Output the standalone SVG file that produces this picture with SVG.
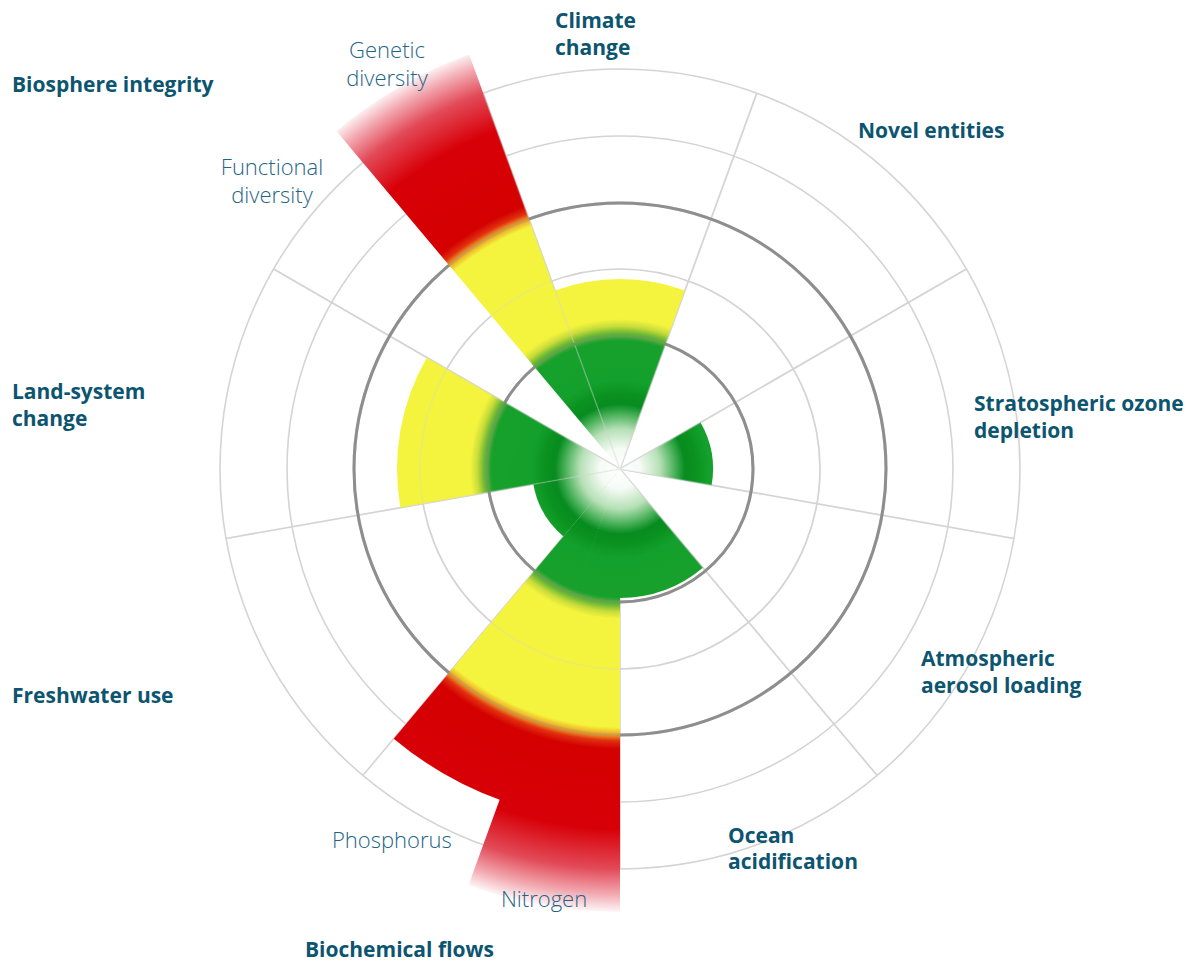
<svg xmlns="http://www.w3.org/2000/svg" width="1192" height="962" viewBox="0 0 1192 962">
<style>
.bg{fill:#ffffff}
.lc{fill:none;stroke:#d4d4d4;stroke-width:1.6}
.dc{fill:none;stroke:#8e8e8e;stroke-width:3}
.sp{stroke:#d4d4d4;stroke-width:1.6}
.w{fill:url(#pb)}
.lbl{font-family:"Open Sans","Liberation Sans",sans-serif;font-weight:700;font-size:21px;fill:#0c5570}
.sub{font-family:"Open Sans","Liberation Sans",sans-serif;font-weight:300;font-size:22px;fill:#1f6585}
</style>
<defs>
<radialGradient id="pb" gradientUnits="userSpaceOnUse" cx="620" cy="469" r="445">
<stop offset="0" stop-color="#ffffff"/>
<stop offset="0.045" stop-color="#f6fbf6"/>
<stop offset="0.09" stop-color="#b6e0b6"/>
<stop offset="0.124" stop-color="#48b058"/>
<stop offset="0.146" stop-color="#078c20"/>
<stop offset="0.17" stop-color="#0a921f"/>
<stop offset="0.2" stop-color="#14a02c"/>
<stop offset="0.288" stop-color="#17a02c"/>
<stop offset="0.306" stop-color="#6cb834"/>
<stop offset="0.321" stop-color="#c8dc3a"/>
<stop offset="0.337" stop-color="#f4f43e"/>
<stop offset="0.58" stop-color="#f4f43e"/>
<stop offset="0.598" stop-color="#f0a020"/>
<stop offset="0.611" stop-color="#e03010"/>
<stop offset="0.629" stop-color="#d40000"/>
<stop offset="0.809" stop-color="#d80008"/>
<stop offset="0.899" stop-color="#e24a58"/>
<stop offset="0.955" stop-color="#f2a8b0"/>
<stop offset="1" stop-color="#ffffff"/>
</radialGradient>
</defs>
<rect class="bg" x="0" y="0" width="1192" height="962"/>
<g id="connectors">
<g id="grid">
<line class="sp" x1="620" y1="469" x2="756.81" y2="93.12"/>
<line class="sp" x1="620" y1="469" x2="966.41" y2="269"/>
<line class="sp" x1="620" y1="469" x2="1013.92" y2="538.46"/>
<line class="sp" x1="620" y1="469" x2="877.12" y2="775.42"/>
<line class="sp" x1="620" y1="469" x2="620" y2="869"/>
<line class="sp" x1="620" y1="469" x2="362.88" y2="775.42"/>
<line class="sp" x1="620" y1="469" x2="226.08" y2="538.46"/>
<line class="sp" x1="620" y1="469" x2="273.59" y2="269"/>
<line class="sp" x1="620" y1="469" x2="483.19" y2="93.12"/>
<circle class="lc" cx="620" cy="469" r="200"/>
<circle class="lc" cx="620" cy="469" r="333"/>
<circle class="lc" cx="620" cy="469" r="400"/>
<circle class="dc" cx="620" cy="469" r="133"/>
<circle class="dc" cx="620" cy="469" r="266"/>
</g>
</g>
<g id="wedge-climate"><path class="w" d="M620 469 L555.02 290.46 A190 190 0 0 1 684.98 290.46 Z"/></g>
<g id="wedge-ozone"><path class="w" d="M620 469 L700.54 422.5 A93 93 0 0 1 711.59 485.15 Z"/></g>
<g id="wedge-ocean"><path class="w" d="M620 469 L702.92 567.82 A129 129 0 0 1 620 598 Z"/></g>
<g id="wedge-phosphorus"><path class="w" d="M620 469 L501.62 800.50 A352 352 0 0 1 393.74 738.65 Z"/></g>
<g id="wedge-nitrogen"><path class="w" d="M620 469 L620 912 A443 443 0 0 1 468.48 885.28 Z"/></g>
<g id="wedge-freshwater"><path class="w" d="M620 469 L563.43 536.41 A88 88 0 0 1 533.34 484.28 Z"/></g>
<g id="wedge-land"><path class="w" d="M620 469 L400.39 507.72 A223 223 0 0 1 426.88 357.5 Z"/></g>
<g id="wedge-genetic"><path class="w" d="M620 469 L336.53 131.18 A441 441 0 0 1 469.17 54.6 Z"/></g>
<g id="grid-overlay" opacity="0.3">
<line class="sp" x1="620" y1="469" x2="756.81" y2="93.12"/>
<line class="sp" x1="620" y1="469" x2="966.41" y2="269"/>
<line class="sp" x1="620" y1="469" x2="1013.92" y2="538.46"/>
<line class="sp" x1="620" y1="469" x2="877.12" y2="775.42"/>
<line class="sp" x1="620" y1="469" x2="226.08" y2="538.46"/>
<line class="sp" x1="620" y1="469" x2="273.59" y2="269"/>
<line class="sp" x1="620" y1="469" x2="483.19" y2="93.12"/>
<circle class="lc" cx="620" cy="469" r="200"/>
<circle class="dc" cx="620" cy="469" r="133"/>
<circle class="dc" cx="620" cy="469" r="266"/>
</g>
<g id="label-climate"><text class="lbl" x="555" y="28">Climate</text><text class="lbl" x="555" y="55">change</text></g>
<g id="label-novel"><text class="lbl" x="858" y="138">Novel entities</text></g>
<g id="label-ozone"><text class="lbl" x="974" y="411">Stratospheric ozone</text><text class="lbl" x="974" y="438">depletion</text></g>
<g id="label-aerosol"><text class="lbl" x="921" y="666">Atmospheric</text><text class="lbl" x="921" y="693">aerosol loading</text></g>
<g id="label-ocean"><text class="lbl" x="728" y="843">Ocean</text><text class="lbl" x="728" y="869">acidification</text></g>
<g id="label-biochemical"><text class="lbl" x="305" y="957">Biochemical flows</text></g>
<g id="label-freshwater"><text class="lbl" x="12" y="703">Freshwater use</text></g>
<g id="label-land"><text class="lbl" x="12" y="399">Land-system</text><text class="lbl" x="12" y="426">change</text></g>
<g id="label-biosphere"><text class="lbl" x="12" y="92">Biosphere integrity</text></g>
<g id="label-genetic"><text class="sub" x="387" y="58" text-anchor="middle">Genetic</text><text class="sub" x="387" y="86" text-anchor="middle">diversity</text></g>
<g id="label-functional"><text class="sub" x="272" y="175" text-anchor="middle">Functional</text><text class="sub" x="272" y="203" text-anchor="middle">diversity</text></g>
<g id="label-phosphorus"><text class="sub" x="332" y="848">Phosphorus</text></g>
<g id="label-nitrogen"><text class="sub" x="501" y="907">Nitrogen</text></g>
</svg>
